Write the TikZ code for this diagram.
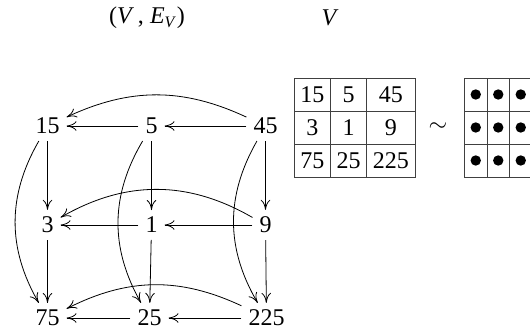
\documentclass[tikz,border=0pt]{standalone}
\usepackage{fontspec}
\setmainfont{Liberation Serif}
\usetikzlibrary{arrows.meta,positioning}

\begin{document}
\begin{tikzpicture}[x=0.5pt, y=-0.5pt, node distance=49.5pt and 52pt, on grid,
    >={To[length=5pt, width=4.8pt]},
    every node/.style={font=\fontsize{12}{14}\selectfont},
    cell/.style={draw=black!75, inner sep=0pt, minimum height=16.5pt},
    dotcell/.style={cell, minimum width=11.25pt,
      path picture={\fill (path picture bounding box.center) circle (2.6pt);}}]
    \useasboundingbox (0,0) rectangle (530,336);
    % headings
    \node (hgraph) at (147,18) {(\textit{V}\,, \textit{E}\textsubscript{\textit{V}})};
    \node (hset) at (330,18) {\textit{V}};
    % divisor graph
    \node (n15) at (47.5,126) {15};
    \node (n5) [right=52pt of n15] {5};
    \node (n45) [right=57pt of n5] {45};
    \node (n3) [below=of n15] {3};
    \node (n1) [right=52pt of n3] {1};
    \node (n9) [right=57pt of n1] {9};
    \node (n75) [below=46.5pt of n3] {75};
    \node (n25) [right=51pt of n75] {25};
    \node (n225) [right=58.5pt of n25] {225};
    \draw[->] (n5) -- (n15);
    \draw[->] (n45) -- (n5);
    \draw[->] (n1) -- (n3);
    \draw[->] (n9) -- (n1);
    \draw[->] (n25) -- (n75);
    \draw[->] (n225) -- (n25);
    \draw[->] (n15) -- (n3);
    \draw[->] (n5) -- (n1);
    \draw[->] (n45) -- (n9);
    \draw[->] (n3) -- (n75);
    \draw[->] (n1) -- (n25);
    \draw[->] (n9) -- (n225);
    \draw[->] (n45) to[bend right=25] (n15);
    \draw[->] (n9) to[bend right=30] (n3);
    \draw[->] (n225) to[bend right=26] (n75);
    \draw[->] (n15) to[bend right=30] (n75);
    \draw[->] (n5) to[bend right=30] (n25);
    \draw[->] (n45) to[bend right=30] (n225);
    % table of divisors
    \node (t15) [cell, minimum width=18.35pt] at (312.35,94.5) {15};
    \node (t5) [cell, minimum width=18pt] at (348.7,94.5) {5};
    \node (t45) [cell, minimum width=24.15pt] at (390.85,94.5) {45};
    \node (t3) [cell, minimum width=18.35pt] at (312.35,127.5) {3};
    \node (t1) [cell, minimum width=18pt] at (348.7,127.5) {1};
    \node (t9) [cell, minimum width=24.15pt] at (390.85,127.5) {9};
    \node (t75) [cell, minimum width=18.35pt] at (312.35,160.5) {75};
    \node (t25) [cell, minimum width=18pt] at (348.7,160.5) {25};
    \node (t225) [cell, minimum width=24.15pt] at (390.85,160.5) {225};
    \node (sim) at (438,127) {$\sim$};
    % grid of dots
    \node (d11) [dotcell] at (475.75,94.5) {};
    \node (d12) [dotcell] at (498.25,94.5) {};
    \node (d13) [dotcell] at (520.75,94.5) {};
    \node (d21) [dotcell] at (475.75,127.5) {};
    \node (d22) [dotcell] at (498.25,127.5) {};
    \node (d23) [dotcell] at (520.75,127.5) {};
    \node (d31) [dotcell] at (475.75,160.5) {};
    \node (d32) [dotcell] at (498.25,160.5) {};
    \node (d33) [dotcell] at (520.75,160.5) {};
  \end{tikzpicture}
\end{document}
